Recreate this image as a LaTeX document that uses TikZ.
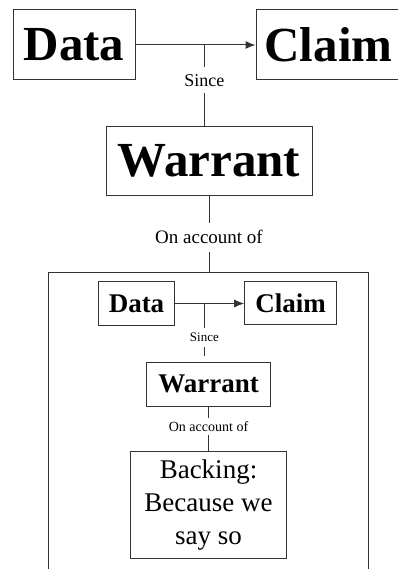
\documentclass[tikz,border=0pt]{standalone}
\usepackage{fontspec}
\setmainfont{Liberation Serif}
\usetikzlibrary{arrows.meta}

\begin{document}
\begin{tikzpicture}[x=1pt,y=-1pt]

		\tikzstyle{box}=[draw=black!80, line width=1pt, inner sep=0pt]
		\tikzstyle{bigword}=[font=\fontsize{49}{58}\selectfont\bfseries]
		\tikzstyle{smallword}=[font=\fontsize{27}{33}\selectfont\bfseries]
		\tikzstyle{lbl}=[inner sep=0pt, anchor=base]
		\tikzstyle{link}=[draw=black!80, line width=1pt]
		\tikzstyle{arrow}=[link, -{Latex[length=10pt,width=8pt]}]

		\clip (0,0) rectangle (398,569);

		% outer argument
		\node[box, bigword, minimum width=122pt, minimum height=70pt] (data) at (74,45) {Data};
		\node[box, bigword, minimum width=145pt, minimum height=70pt] (claim) at (328.5,45) {Claim};
		\node[box, bigword, minimum width=206pt, minimum height=69pt] (warrant) at (209,161) {Warrant};

		\node[lbl, font=\fontsize{18}{22}\selectfont, text height=20pt, text depth=6pt] (since) at (204.3,87) {Since};
		\node[lbl, font=\fontsize{19}{23}\selectfont, text height=20pt, text depth=9pt] (account) at (209,243) {On account of};

		\coordinate (j) at (204.3,45);
		\draw[arrow] (data) -- (claim);
		\draw[link] (j) -- (since.north);
		\draw[link] (since.south) -- (since.south |- warrant.north);
		\draw[link] (warrant.south) -- (account.north);

		% the backing, itself an argument
		\node[box, minimum width=319.7pt, minimum height=320pt] (frame) at (208.15,432) {};
		\draw[link] (account.south) -- (account.south |- frame.north);

		\node[box, smallword, minimum width=76.4pt, minimum height=44pt] (data2) at (136.5,303.5) {Data};
		\node[box, smallword, minimum width=91.6pt, minimum height=43.5pt] (claim2) at (290.5,303) {Claim};
		\node[box, smallword, minimum width=123.6pt, minimum height=43.7pt] (warrant2) at (208.5,384.2) {Warrant};

		\node[lbl, font=\fontsize{13}{16}\selectfont, text height=12.5pt, text depth=6pt] (since2) at (204.4,341) {Since};
		\node[lbl, font=\fontsize{14}{17}\selectfont, text height=13.4pt, text depth=3.3pt] (account2) at (208.5,431.7) {On account of};

		\node[box, minimum width=155.7pt, minimum height=106.6pt, align=center, font=\fontsize{27}{33}\selectfont] (backing) at (208.5,505) {Backing:\\Because we\\say so};

		\coordinate (j2) at (204.4,303.5);
		\coordinate (gap2) at (204.4,355.7);
		\draw[arrow] (data2.east) -- (data2.east -| claim2.west);
		\draw[link] (j2) -- (since2.north);
		\draw[link] (since2.south) -- (gap2);
		\draw[link] (warrant2.south) -- (account2.north);
		\draw[link] (account2.south) -- (backing.north);

\end{tikzpicture}
\end{document}
